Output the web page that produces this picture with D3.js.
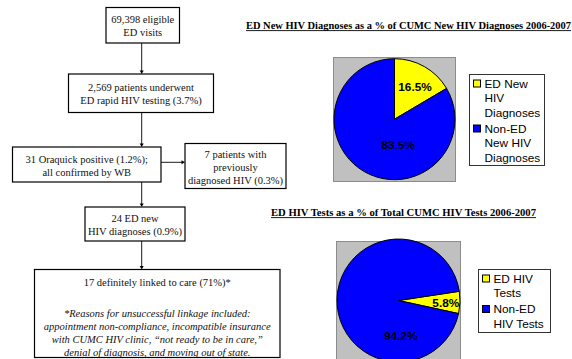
<!DOCTYPE html>
<html>
<head>
<meta charset="utf-8">
<script src="https://cdn.jsdelivr.net/npm/d3@7"></script>
<style>
  html, body { margin: 0; padding: 0; background: #fff; }
  svg { display: block; }
</style>
</head>
<body>
<svg id="chart" width="572" height="359"></svg>
<script>
// ---- Flowchart content ----
const flowLines = [
  ["69,398 eligible", "ED visits"],
  ["2,569 patients underwent", "ED rapid HIV testing (3.7%)"],
  ["31 Oraquick positive (1.2%);", "all confirmed by WB"],
  ["7 patients with", "previously", "diagnosed HIV (0.3%)"],
  ["24 ED new", "HIV diagnoses (0.9%)"],
  ["17 definitely linked to care (71%)*"]
];
const footnoteLines = [
  "*Reasons for unsuccessful linkage included:",
  "appointment non-compliance, incompatible insurance",
  "with CUMC HIV clinic, \u201cnot ready to be in care,\u201d",
  "denial of diagnosis, and moving out of state."
];

// ---- Pie chart data ----
const pie1Title = "ED New HIV Diagnoses as a % of CUMC New HIV Diagnoses 2006-2007";
const pie1Categories = ["ED New HIV Diagnoses", "Non-ED New HIV Diagnoses"];
const pie1Values = [16.5, 83.5];
const pie1LegendLines = [["ED New", "HIV", "Diagnoses"], ["Non-ED", "New HIV", "Diagnoses"]];

const pie2Title = "ED HIV Tests as a % of Total CUMC HIV Tests 2006-2007";
const pie2Categories = ["ED HIV Tests", "Non-ED HIV Tests"];
const pie2Values = [5.8, 94.2];
const pie2LegendLines = [["ED HIV", "Tests"], ["Non-ED", "HIV Tests"]];

const sliceColors = ["#FFFF00", "#0000FF"];

// ---- Layout ----
const svg = d3.select("#chart");
const serif = "'Liberation Serif', 'Times New Roman', serif";
const sans = "'Liberation Sans', Arial, sans-serif";

const boxes = [
  { x0: 106, x1: 179.5, y0: 7.5, y1: 43 },
  { x0: 68.5, x1: 213.5, y0: 74, y1: 112.5 },
  { x0: 12.5, x1: 161, y0: 147, y1: 182 },
  { x0: 185, x1: 286, y0: 143.5, y1: 188.5 },
  { x0: 85, x1: 185, y0: 207, y1: 241 },
  { x0: 34.5, x1: 280, y0: 269.5, y1: 357.5 }
];
const spineX = 141.7;
const lineH = 13;

const flow = svg.append("g");

boxes.forEach((b, i) => {
  flow.append("rect")
    .attr("x", b.x0).attr("y", b.y0)
    .attr("width", b.x1 - b.x0).attr("height", b.y1 - b.y0)
    .attr("fill", "#fff").attr("stroke", "#000").attr("stroke-width", 1.2);
  const cx = (b.x0 + b.x1) / 2;
  const lines = flowLines[i];
  if (i < 5) {
    const cy = (b.y0 + b.y1) / 2 + 1;
    const firstY = cy - (lines.length - 1) * lineH / 2;
    lines.forEach((t, j) => {
      flow.append("text")
        .attr("x", cx).attr("y", firstY + j * lineH + 3.6)
        .attr("text-anchor", "middle")
        .attr("font-family", serif).attr("font-size", 10.5)
        .attr("fill", "#111")
        .text(t);
    });
  } else {
    flow.append("text")
      .attr("x", cx).attr("y", b.y0 + 13.2 + 3.6)
      .attr("text-anchor", "middle")
      .attr("font-family", serif).attr("font-size", 10.5)
      .attr("fill", "#111")
      .text(lines[0]);
    footnoteLines.forEach((t, j) => {
      flow.append("text")
        .attr("x", cx).attr("y", b.y0 + 44 + j * 12.8 + 3.6)
        .attr("text-anchor", "middle")
        .attr("font-family", serif).attr("font-size", 10.5)
        .attr("font-style", "italic")
        .attr("fill", "#111")
        .text(t);
    });
  }
});

// connectors
function arrowDown(x, y0, y1) {
  flow.append("line").attr("x1", x).attr("x2", x).attr("y1", y0).attr("y2", y1 - 3)
    .attr("stroke", "#000").attr("stroke-width", 0.9);
  flow.append("path")
    .attr("d", `M${x - 2},${y1 - 3.5}L${x + 2},${y1 - 3.5}L${x},${y1}Z`)
    .attr("fill", "#000");
}
function arrowRight(y, x0, x1) {
  flow.append("line").attr("x1", x0).attr("x2", x1 - 3).attr("y1", y).attr("y2", y)
    .attr("stroke", "#000").attr("stroke-width", 0.9);
  flow.append("path")
    .attr("d", `M${x1 - 3.5},${y - 2}L${x1 - 3.5},${y + 2}L${x1},${y}Z`)
    .attr("fill", "#000");
}
arrowDown(spineX, boxes[0].y1, boxes[1].y0);
arrowDown(spineX, boxes[1].y1, boxes[2].y0);
arrowRight(162.3, boxes[2].x1, boxes[3].x0);
arrowDown(spineX, boxes[2].y1, boxes[4].y0);
arrowDown(spineX, boxes[4].y1, boxes[5].y0);

// ---- Pie charts ----
const color = d3.scaleOrdinal().range(sliceColors);

function drawPie(cfg) {
  const g = svg.append("g");

  // underlined title
  const title = g.append("text")
    .attr("x", cfg.titleX0).attr("y", cfg.titleY)
    .attr("font-family", serif).attr("font-size", 10).attr("font-weight", "bold")
    .attr("textLength", cfg.titleX1 - cfg.titleX0)
    .attr("lengthAdjust", "spacingAndGlyphs")
    .attr("fill", "#000")
    .text(cfg.title);
  g.append("line")
    .attr("x1", cfg.titleX0).attr("x2", cfg.titleX1)
    .attr("y1", cfg.titleY + 1.6).attr("y2", cfg.titleY + 1.6)
    .attr("stroke", "#000").attr("stroke-width", 0.9);

  // plot area
  g.append("rect")
    .attr("x", cfg.plot.x0).attr("y", cfg.plot.y0)
    .attr("width", cfg.plot.x1 - cfg.plot.x0).attr("height", cfg.plot.y1 - cfg.plot.y0)
    .attr("fill", "#C0C0C0").attr("stroke", "#8c8c8c").attr("stroke-width", 1);

  const pie = d3.pie().sort(null).value(d => d.value)
    .startAngle(cfg.startDeg * Math.PI / 180)
    .endAngle(cfg.startDeg * Math.PI / 180 + 2 * Math.PI);
  const data = cfg.categories.map((c, i) => ({ category: c, value: cfg.values[i] }));
  color.domain(cfg.categories);
  const arcs = pie(data);
  const arc = d3.arc().innerRadius(0).outerRadius(cfg.r);

  const pg = g.append("g").attr("transform", `translate(${cfg.cx},${cfg.cy})`);
  pg.selectAll("path").data(arcs).join("path")
    .attr("d", arc)
    .attr("fill", d => color(d.data.category))
    .attr("stroke", "#000").attr("stroke-width", 1);

  pg.selectAll("text.val").data(arcs).join("text")
    .attr("class", "val")
    .attr("x", (d, i) => Math.sin(cfg.labelPos[i].deg * Math.PI / 180) * cfg.r * cfg.labelPos[i].k)
    .attr("y", (d, i) => -Math.cos(cfg.labelPos[i].deg * Math.PI / 180) * cfg.r * cfg.labelPos[i].k)
    .attr("dy", "0.36em")
    .attr("text-anchor", "middle")
    .attr("font-family", sans).attr("font-size", 11.8).attr("font-weight", "bold")
    .attr("fill", "#000")
    .text(d => d3.format(".1f")(d.data.value) + "%");

  // legend
  const L = cfg.legend;
  g.append("rect")
    .attr("x", L.x0).attr("y", L.y0)
    .attr("width", L.x1 - L.x0).attr("height", L.y1 - L.y0)
    .attr("fill", "#fff").attr("stroke", "#333").attr("stroke-width", 1);
  let y = L.y0 + 9;
  cfg.legendLines.forEach((lines, i) => {
    g.append("rect")
      .attr("x", L.x0 + 4).attr("y", y - 3.5)
      .attr("width", 7).attr("height", 7)
      .attr("fill", color(cfg.categories[i]))
      .attr("stroke", "#000").attr("stroke-width", 1);
    lines.forEach((t, j) => {
      g.append("text")
        .attr("x", L.x0 + 15).attr("y", y + j * 14.5 + 4.2)
        .attr("font-family", sans).attr("font-size", 11.8)
        .attr("fill", "#000")
        .text(t);
    });
    y += lines.length * 14.5 + 1.5;
  });
}

drawPie({
  title: pie1Title, titleX0: 246, titleX1: 571, titleY: 29,
  categories: pie1Categories, values: pie1Values, legendLines: pie1LegendLines,
  plot: { x0: 333.5, x1: 455.5, y0: 57.5, y1: 181.5 },
  cx: 394.5, cy: 119.2, r: 60.5, startDeg: 0,
  labelPos: [{ deg: 32, k: 0.64 }, { deg: 171.6, k: 0.42 }],
  legend: { x0: 469.5, x1: 544.5, y0: 74.5, y1: 165.5 }
});

drawPie({
  title: pie2Title, titleX0: 271, titleX1: 536, titleY: 216,
  categories: pie2Categories, values: pie2Values, legendLines: pie2LegendLines,
  plot: { x0: 336.5, x1: 460.5, y0: 241.5, y1: 364 },
  cx: 398.5, cy: 300.5, r: 61.5, startDeg: 81.4,
  labelPos: [{ deg: 93, k: 0.77 }, { deg: 176.5, k: 0.58 }],
  legend: { x0: 478.5, x1: 550.5, y0: 269.5, y1: 332.5 }
});
</script>
</body>
</html>
